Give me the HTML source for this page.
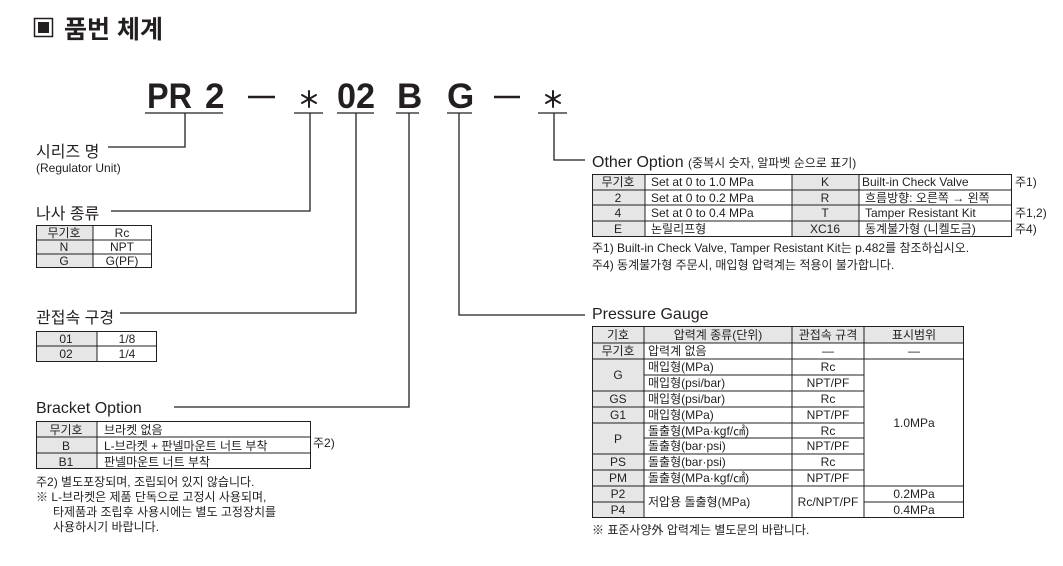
<!DOCTYPE html>
<html><head><meta charset="utf-8"><style>
html,body{margin:0;padding:0;background:#fff;width:1063px;height:566px;overflow:hidden}
svg text{font-family:"Liberation Sans","Noto Sans CJK KR",sans-serif;fill:#231f20}
.t{font-size:12px}
.c{text-anchor:middle}
</style></head><body>
<svg width="1063" height="566" viewBox="0 0 1063 566" xmlns="http://www.w3.org/2000/svg">
<!-- title -->
<rect x="34.5" y="18.5" width="18" height="18" fill="none" stroke="#231f20" stroke-width="1.5"/>
<rect x="38" y="22" width="11" height="11" fill="#231f20"/>
<text x="64" y="38" style="font-size:25px;font-weight:bold">품번 체계</text>

<!-- part code -->
<g style="font-size:35px;font-weight:bold">
<text x="147" y="108" textLength="45" lengthAdjust="spacingAndGlyphs">PR</text>
<text x="205" y="108">2</text>
<text x="337" y="108" textLength="38" lengthAdjust="spacingAndGlyphs">02</text>
<text x="397" y="108">B</text>
<text x="447" y="108">G</text>
</g>
<g stroke="#231f20" stroke-width="2.5">
<line x1="248" y1="97" x2="275" y2="97"/>
<line x1="494" y1="97" x2="520" y2="97"/>
</g>
<g stroke="#231f20" stroke-width="2" stroke-linecap="round">
<g transform="translate(309,99)"><line x1="0" y1="-8" x2="0" y2="8"/><line x1="-7" y1="-4" x2="7" y2="4"/><line x1="-7" y1="4" x2="7" y2="-4"/></g>
<g transform="translate(553,99)"><line x1="0" y1="-8" x2="0" y2="8"/><line x1="-7" y1="-4" x2="7" y2="4"/><line x1="-7" y1="4" x2="7" y2="-4"/></g>
</g>
<g stroke="#231f20" stroke-width="1.3" fill="none">
<line x1="145" y1="113" x2="223" y2="113"/>
<line x1="294" y1="113" x2="323" y2="113"/>
<line x1="337" y1="113" x2="374" y2="113"/>
<line x1="396" y1="113" x2="419" y2="113"/>
<line x1="447" y1="113" x2="472" y2="113"/>
<line x1="538" y1="113" x2="567" y2="113"/>
<polyline points="185,113 185,147 108,147"/>
<polyline points="310,113 310,211 111,211"/>
<polyline points="356,113 356,313 120,313"/>
<polyline points="409,113 409,407 174,407"/>
<polyline points="459,113 459,315 585,315"/>
<polyline points="554,113 554,160 585,160"/>
</g>

<!-- series -->
<text x="36" y="157" style="font-size:16px">시리즈 명</text>
<text x="36" y="172" class="t">(Regulator Unit)</text>

<!-- thread -->
<text x="36" y="219" style="font-size:16px">나사 종류</text>
<rect x="36" y="225" width="57" height="43" fill="#e6e6e7"/>
<g stroke="#231f20" stroke-width="1" fill="none">
<rect x="36.5" y="225.5" width="115" height="42"/>
<line x1="93" y1="225" x2="93" y2="268"/>
<line x1="36" y1="240" x2="152" y2="240"/><line x1="36" y1="254" x2="152" y2="254"/>
</g>
<text x="64" y="237" class="t c">무기호</text><text x="122" y="237" class="t c">Rc</text>
<text x="64" y="251" class="t c">N</text><text x="122" y="251" class="t c">NPT</text>
<text x="64" y="265" class="t c">G</text><text x="122" y="265" class="t c">G(PF)</text>

<!-- port -->
<text x="36" y="323" style="font-size:16px">관접속 구경</text>
<rect x="36" y="331" width="61" height="31" fill="#e6e6e7"/>
<g stroke="#231f20" stroke-width="1" fill="none">
<rect x="36.5" y="331.5" width="120" height="30"/>
<line x1="97" y1="331" x2="97" y2="362"/><line x1="36" y1="346" x2="157" y2="346"/>
</g>
<text x="66" y="343" class="t c">01</text><text x="127" y="343" class="t c">1/8</text>
<text x="66" y="358" class="t c">02</text><text x="127" y="358" class="t c">1/4</text>

<!-- bracket -->
<text x="36" y="413" style="font-size:16px">Bracket Option</text>
<rect x="36" y="421" width="61" height="48" fill="#e6e6e7"/>
<g stroke="#231f20" stroke-width="1" fill="none">
<rect x="36.5" y="421.5" width="274" height="47"/>
<line x1="97" y1="421" x2="97" y2="469"/><line x1="36" y1="437" x2="311" y2="437"/><line x1="36" y1="453" x2="311" y2="453"/>
</g>
<text x="66" y="434" class="t c">무기호</text><text x="104" y="434" class="t">브라켓 없음</text>
<text x="66" y="450" class="t c">B</text><text x="104" y="450" class="t">L-브라켓 + 판넬마운트 너트 부착</text>
<text x="66" y="466" class="t c">B1</text><text x="104" y="466" class="t">판넬마운트 너트 부착</text>
<text x="313" y="447" class="t">주2)</text>
<text x="36" y="486" class="t">주2) 별도포장되며, 조립되어 있지 않습니다.</text>
<text x="36" y="501" class="t">※ L-브라켓은 제품 단독으로 고정시 사용되며,</text>
<text x="53" y="516" class="t">타제품과 조립후 사용시에는 별도 고정장치를</text>
<text x="53" y="531" class="t">사용하시기 바랍니다.</text>

<!-- other option -->
<text x="592" y="167" style="font-size:16px">Other Option <tspan style="font-size:12px">(중복시 숫자, 알파벳 순으로 표기)</tspan></text>
<rect x="592" y="174" width="53" height="63" fill="#e6e6e7"/>
<rect x="792" y="174" width="67" height="63" fill="#e6e6e7"/>
<g stroke="#231f20" stroke-width="1" fill="none">
<rect x="592.5" y="174.5" width="419" height="62"/>
<line x1="645" y1="174" x2="645" y2="237"/><line x1="792" y1="174" x2="792" y2="237"/><line x1="859" y1="174" x2="859" y2="237"/>
<line x1="592" y1="190" x2="1012" y2="190"/><line x1="592" y1="205" x2="1012" y2="205"/><line x1="592" y1="221" x2="1012" y2="221"/>
</g>
<text x="618" y="186" class="t c">무기호</text><text x="651" y="186" class="t">Set at 0 to 1.0 MPa</text><text x="825" y="186" class="t c">K</text><text x="862" y="186" class="t">Built-in Check Valve</text><text x="1015" y="186" class="t">주1)</text>
<text x="618" y="202" class="t c">2</text><text x="651" y="202" class="t">Set at 0 to 0.2 MPa</text><text x="825" y="202" class="t c">R</text><text x="865" y="202" class="t">흐름방향: 오른쪽 → 왼쪽</text>
<text x="618" y="217" class="t c">4</text><text x="651" y="217" class="t">Set at 0 to 0.4 MPa</text><text x="825" y="217" class="t c">T</text><text x="865" y="217" class="t">Tamper Resistant Kit</text><text x="1015" y="217" class="t">주1,2)</text>
<text x="618" y="233" class="t c">E</text><text x="651" y="233" class="t">논릴리프형</text><text x="825" y="233" class="t c">XC16</text><text x="865" y="233" class="t">동계불가형 (니켈도금)</text><text x="1015" y="233" class="t">주4)</text>
<text x="592" y="252" class="t">주1) Built-in Check Valve, Tamper Resistant Kit는 p.482를 참조하십시오.</text>
<text x="592" y="269" class="t">주4) 동계불가형 주문시, 매입형 압력계는 적용이 불가합니다.</text>

<!-- pressure gauge -->
<text x="592" y="319" style="font-size:16px">Pressure Gauge</text>
<rect x="592" y="326" width="372" height="17" fill="#e6e6e7"/>
<rect x="592" y="343" width="52" height="175" fill="#e6e6e7"/>
<g stroke="#231f20" stroke-width="1" fill="none">
<rect x="592.5" y="326.5" width="371" height="191"/>
<line x1="644" y1="326" x2="644" y2="518"/><line x1="792" y1="326" x2="792" y2="518"/><line x1="864" y1="326" x2="864" y2="518"/>
<line x1="592" y1="343" x2="964" y2="343"/><line x1="592" y1="359" x2="964" y2="359"/>
<line x1="644" y1="375" x2="864" y2="375"/>
<line x1="592" y1="391" x2="864" y2="391"/><line x1="592" y1="407" x2="864" y2="407"/><line x1="592" y1="423" x2="864" y2="423"/>
<line x1="644" y1="438" x2="864" y2="438"/>
<line x1="592" y1="454" x2="864" y2="454"/><line x1="592" y1="470" x2="864" y2="470"/>
<line x1="592" y1="486" x2="964" y2="486"/>
<line x1="592" y1="502" x2="644" y2="502"/><line x1="864" y1="502" x2="964" y2="502"/>
</g>
<text x="618" y="339" class="t c">기호</text><text x="718" y="339" class="t c">압력계 종류(단위)</text><text x="828" y="339" class="t c">관접속 규격</text><text x="914" y="339" class="t c">표시범위</text>
<text x="618" y="355" class="t c">무기호</text><text x="648" y="355" class="t">압력계 없음</text><text x="828" y="355" class="t c">—</text><text x="914" y="355" class="t c">—</text>
<text x="618" y="379" class="t c">G</text><text x="648" y="371" class="t">매입형(MPa)</text><text x="828" y="371" class="t c">Rc</text>
<text x="648" y="387" class="t">매입형(psi/bar)</text><text x="828" y="387" class="t c">NPT/PF</text>
<text x="618" y="403" class="t c">GS</text><text x="648" y="403" class="t">매입형(psi/bar)</text><text x="828" y="403" class="t c">Rc</text>
<text x="618" y="419" class="t c">G1</text><text x="648" y="419" class="t">매입형(MPa)</text><text x="828" y="419" class="t c">NPT/PF</text>
<text x="618" y="443" class="t c">P</text><text x="648" y="435" class="t">돌출형(MPa·kgf/㎠)</text><text x="828" y="435" class="t c">Rc</text>
<text x="648" y="450" class="t">돌출형(bar·psi)</text><text x="828" y="450" class="t c">NPT/PF</text>
<text x="618" y="466" class="t c">PS</text><text x="648" y="466" class="t">돌출형(bar·psi)</text><text x="828" y="466" class="t c">Rc</text>
<text x="618" y="482" class="t c">PM</text><text x="648" y="482" class="t">돌출형(MPa·kgf/㎠)</text><text x="828" y="482" class="t c">NPT/PF</text>
<text x="914" y="427" class="t c">1.0MPa</text>
<text x="618" y="498" class="t c">P2</text><text x="618" y="514" class="t c">P4</text>
<text x="648" y="506" class="t">저압용 돌출형(MPa)</text><text x="828" y="506" class="t c">Rc/NPT/PF</text>
<text x="914" y="498" class="t c">0.2MPa</text><text x="914" y="514" class="t c">0.4MPa</text>
<text x="592" y="534" class="t">※ 표준사양外 압력계는 별도문의 바랍니다.</text>
</svg>
</body></html>
